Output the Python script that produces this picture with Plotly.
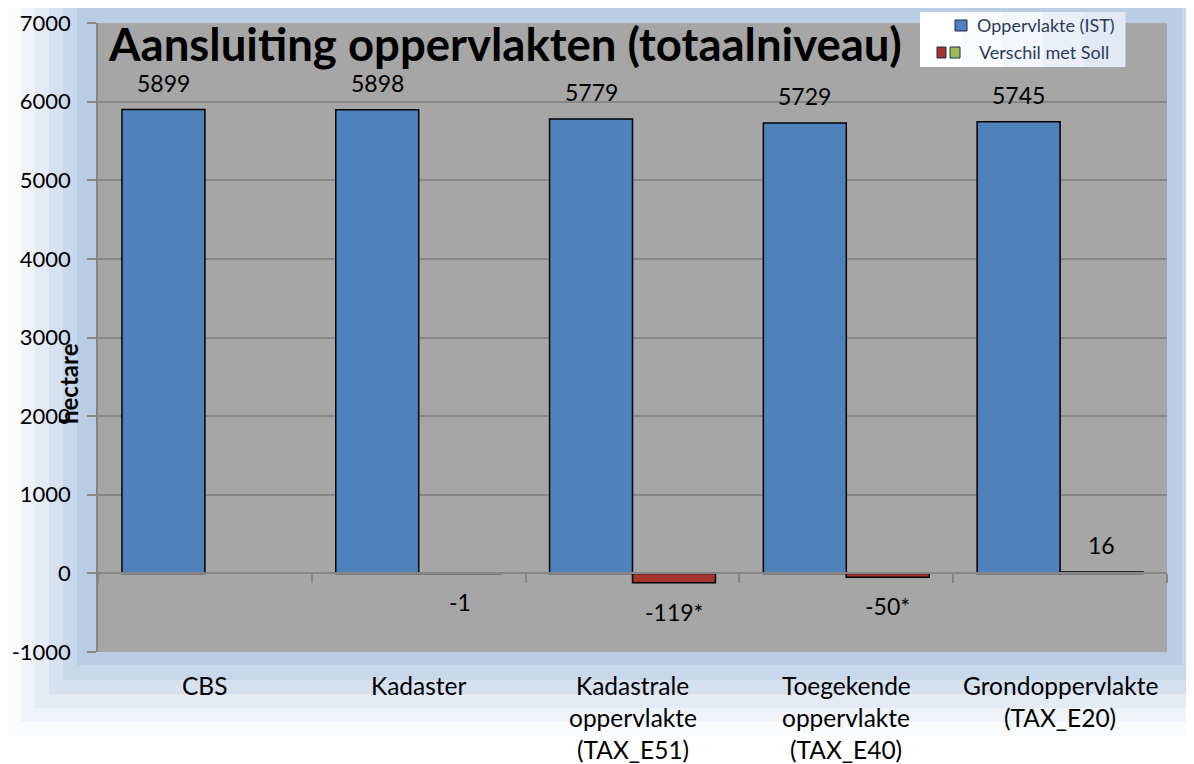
import plotly.graph_objects as go

# ---------------- data ----------------
categories = ["CBS", "Kadaster", "Kadastrale<br>oppervlakte<br>(TAX_E51)",
              "Toegekende<br>oppervlakte<br>(TAX_E40)", "Grondoppervlakte<br>(TAX_E20)"]
ist_values = [5899, 5898, 5779, 5729, 5745]
diff_values = [None, -1, -119, -50, 16]
diff_labels = ["", "-1", "-119*", "-50*", "16"]
series_names = ["Oppervlakte (IST)", "Verschil met Soll"]
title_text = "Aansluiting oppervlakten (totaalniveau)"
y_title = "hectare"
y_ticks = [-1000, 0, 1000, 2000, 3000, 4000, 5000, 6000, 7000]
y_ticktext = ["-1000", "0", "1000", "2000", "3000", "4000", "5000", "6000", "7000"]

# ---------------- layout constants ----------------
OFF = 8                      # page body margin of the html page
W, H = 1194 - OFF, 764 - OFF
L, R, T, B = 98 - OFF, 27, 23 - OFF, 112
PW, PH = W - L - R, H - T - B
FONT = "Lato"
BLUE = "#4F81BD"
RED = "#A5352F"
GREEN = "#9BBB59"
GRID = "#868686"
PLOT_BG = "#A6A6A6"
BAND_BLUE = "#B9CDE5"
BARGAP = 0.224


def px_x(px):
    # page pixel -> paper coordinate
    return (px - OFF - L) / PW


def px_y(py):
    return (H - B - (py - OFF)) / PH


xkeys = [c.replace("<br>", " ") for c in categories]

fig = go.Figure()
fig.add_trace(go.Bar(
    x=xkeys, y=ist_values, name=series_names[0],
    marker=dict(color=BLUE, line=dict(color="black", width=1.5)),
))
fig.add_trace(go.Bar(
    x=xkeys, y=diff_values, name=series_names[1],
    marker=dict(color=[GREEN if (v is not None and v > 0) else RED for v in diff_values],
                line=dict(color="black", width=1.5)),
))

shapes = []
# gradient-ish blue frame behind the chart
bands = [
    (8, 8, 1194, 736, "#F9FBFD"),
    (21, 8, 1194, 722, "#F0F4FA"),
    (35, 8, 1193, 708, "#E4EBF5"),
    (49, 8, 1192, 694, "#D6E1EF"),
    (63, 8, 1192, 680, "#C8D7EA"),
    (77, 8, 1182, 665, BAND_BLUE),
]
for x0, y0, x1, y1, col in bands:
    shapes.append(dict(type="rect", xref="paper", yref="paper",
                       x0=px_x(x0), x1=px_x(x1), y0=px_y(y1), y1=px_y(y0),
                       fillcolor=col, line=dict(width=0), layer="below"))
# grey plot area
shapes.append(dict(type="rect", xref="paper", yref="paper", x0=0, x1=1, y0=0, y1=1,
                   fillcolor=PLOT_BG, line=dict(width=0), layer="below"))

# legend box (white fading to light blue)
legend_cols = ["#FFFFFF", "#FAFBFD", "#F3F6FB", "#EBF0F8", "#E2E9F4"]
lx0, lx1 = 920, 1125
step = (lx1 - lx0) / len(legend_cols)
for i, col in enumerate(legend_cols):
    shapes.append(dict(type="rect", xref="paper", yref="paper",
                       x0=px_x(lx0 + i * step), x1=px_x(lx0 + (i + 1) * step + 0.5),
                       y0=px_y(67), y1=px_y(12),
                       fillcolor=col, line=dict(width=0), layer="above"))
# legend markers
for (x0, y0, x1, y1, col) in [(955, 20, 967, 31, BLUE), (937, 47, 946, 58, RED), (950, 47, 960, 58, GREEN)]:
    shapes.append(dict(type="rect", xref="paper", yref="paper",
                       x0=px_x(x0), x1=px_x(x1), y0=px_y(y1), y1=px_y(y0),
                       fillcolor=col, line=dict(color="#1F2F4F", width=1), layer="above"))

annotations = []
half_bar = PW / len(categories) * (1 - BARGAP) / 4
for c, v in zip(xkeys, ist_values):
    annotations.append(dict(x=c, y=v, xref="x", yref="y", text=str(v), showarrow=False,
                            xshift=-half_bar, yshift=27, yanchor="middle",
                            font=dict(family=FONT, size=23, color="black")))
for c, v, t in zip(xkeys, diff_values, diff_labels):
    if v is None or t == "":
        continue
    annotations.append(dict(x=c, y=v, xref="x", yref="y", text=t, showarrow=False,
                            xshift=half_bar, yshift=(27 if v > 0 else -29), yanchor="middle",
                            font=dict(family=FONT, size=23, color="black")))

# category labels (line by line for spacing control)
for c, full in zip(xkeys, categories):
    for i, line in enumerate(full.split("<br>")):
        annotations.append(dict(x=c, y=0, xref="x", yref="paper", text=line, showarrow=False,
                                yshift=-(33 + 32 * i), yanchor="middle",
                                font=dict(family=FONT, size=24.5, color="black")))

# title
annotations.append(dict(x=px_x(106), y=px_y(44), xref="paper", yref="paper", text="<b>" + title_text + "</b>",
                        showarrow=False, xanchor="left", yanchor="middle",
                        font=dict(family=FONT, size=45.5, color="black")))
# y title
annotations.append(dict(x=px_x(68), y=px_y(384), xref="paper", yref="paper", text="<b>" + y_title + "</b>",
                        showarrow=False, textangle=-90, xanchor="center", yanchor="middle",
                        font=dict(family=FONT, size=24, color="black")))
# legend texts
annotations.append(dict(x=px_x(1117), y=px_y(25), xref="paper", yref="paper", text=series_names[0],
                        showarrow=False, xanchor="right", yanchor="middle",
                        font=dict(family=FONT, size=18, color="#2A3B5A")))
annotations.append(dict(x=px_x(1111), y=px_y(52), xref="paper", yref="paper", text=series_names[1],
                        showarrow=False, xanchor="right", yanchor="middle",
                        font=dict(family=FONT, size=18, color="#2A3B5A")))

fig.update_layout(
    width=W, height=H, autosize=False,
    margin=dict(l=L, r=R, t=T, b=B, autoexpand=False),
    paper_bgcolor="white", plot_bgcolor=PLOT_BG,
    barmode="group", bargap=BARGAP, bargroupgap=0,
    showlegend=False,
    shapes=shapes, annotations=annotations,
    font=dict(family=FONT, color="black"),
    xaxis=dict(type="category", categoryarray=xkeys, range=[-0.5, len(xkeys) - 0.5],
               anchor="free", position=(0 - y_ticks[0]) / (y_ticks[-1] - y_ticks[0]),
               tickson="boundaries", ticks="outside", ticklen=9, tickcolor=GRID, tickwidth=1.5,
               showticklabels=False, showline=True, linecolor=GRID, linewidth=1.5,
               showgrid=False, zeroline=False, automargin=False),
    yaxis=dict(range=[y_ticks[0], y_ticks[-1]], tickvals=y_ticks, ticktext=y_ticktext,
               showgrid=True, gridcolor=GRID, gridwidth=1.5,
               showline=True, linecolor=GRID, linewidth=1.5,
               ticks="outside", ticklen=9, tickcolor=GRID, tickwidth=1.5,
               ticklabelstandoff=12, zeroline=False, automargin=False,
               tickfont=dict(family=FONT, size=22, color="black")),
)

fig.write_html("out.html")
